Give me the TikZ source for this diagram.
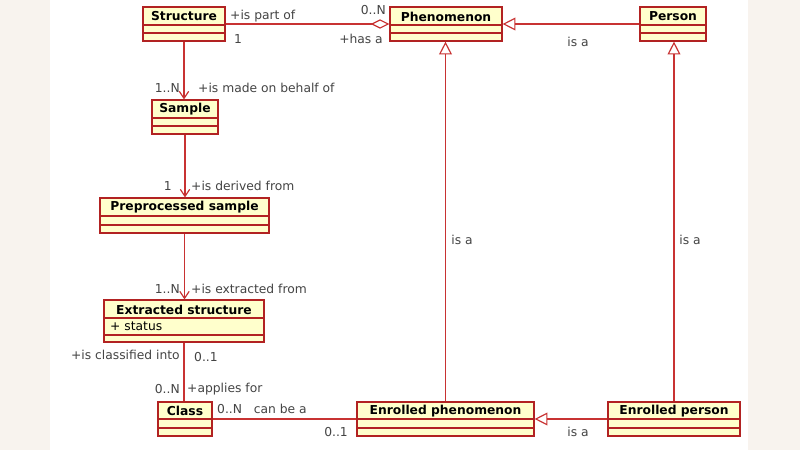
\documentclass[tikz,border=0pt]{standalone}
\usepackage{fontspec}
\setmainfont{DejaVu Sans}
\usetikzlibrary{fit,arrows.meta}
\definecolor{boxfill}{HTML}{FFFFCC}
\definecolor{boxline}{HTML}{B22222}
\definecolor{conn}{HTML}{C83232}
\definecolor{lbl}{HTML}{444444}
\definecolor{edge}{HTML}{F8F3EE}
\newcommand\umlclass[7]{% name x1 y1 x2 y2 titlebottom title
  \node[fit={(#2,#3)(#4,#5)}, inner sep=0pt, draw=boxline, fill=boxfill, line width=1pt] (#1) {};
  \node[font=\fontsize{10.5}{12}\selectfont\bfseries, anchor=center] at ({(#2+#4)/2},{(#3+#6)/2+0.5}) {#7};
}
\begin{document}
\begin{tikzpicture}[x=0.03cm,y=-0.03cm,
  lab/.style={font=\fontsize{10.5}{12}\selectfont, text=lbl, inner sep=0pt},
  cn/.style={draw=conn, line width=1pt},
  gen/.style={cn, -{Triangle[open, length=11pt, width=11pt, fill=white]}},
  nav/.style={cn, -{Straight Barb[length=6pt, width=8pt]}},
  agg/.style={cn, {Diamond[open, length=16pt, width=8pt, fill=white]}-}]
\useasboundingbox (0,0) rectangle (800,450);
\fill[white] (0,0) rectangle (800,450);
\fill[edge] (0,0) rectangle (50,450);
\fill[edge] (748,0) rectangle (800,450);
% classes
\umlclass{st}{143}{7}{225}{41}{25}{Structure}
\draw[boxline,line width=1pt] (143,25)--(225,25) (143,33)--(225,33);
\umlclass{ph}{390}{7}{502}{41}{25}{Phenomenon}
\draw[boxline,line width=1pt] (390,25)--(502,25) (390,33)--(502,33);
\umlclass{pe}{640}{7}{706}{41}{25}{Person}
\draw[boxline,line width=1pt] (640,25)--(706,25) (640,33)--(706,33);
\umlclass{sa}{152}{100}{218}{134}{118}{Sample}
\draw[boxline,line width=1pt] (152,118)--(218,118) (152,126)--(218,126);
\umlclass{pp}{100}{198}{269}{233}{216}{Preprocessed sample}
\draw[boxline,line width=1pt] (100,216)--(269,216) (100,225)--(269,225);
\umlclass{es}{104}{300}{264}{342}{318}{Extracted structure}
\draw[boxline,line width=1pt] (104,318)--(264,318) (104,335)--(264,335);
\node[lab, text=black, anchor=west] at (110,326.5) {+ status};
\umlclass{cl}{158}{402}{212}{436}{419}{Class}
\draw[boxline,line width=1pt] (158,419)--(212,419) (158,428)--(212,428);
\umlclass{ep}{357}{402}{534}{436}{419}{Enrolled phenomenon}
\draw[boxline,line width=1pt] (357,419)--(534,419) (357,428)--(534,428);
\umlclass{epe}{608}{402}{740}{436}{419}{Enrolled person}
\draw[boxline,line width=1pt] (608,419)--(740,419) (608,428)--(740,428);
% connectors
\draw[agg] (ph.west) -- (st.east);
\node[lab, anchor=west] at (230,16) {+is part of};
\node[lab, anchor=east] at (386,10) {0..N};
\node[lab, anchor=west] at (234,39) {1};
\node[lab, anchor=east] at (383,39) {+has a};
\draw[nav] (st.south) -- (st.south |- sa.north);
\node[lab, anchor=east] at (180,88) {1..N};
\node[lab, anchor=west] at (198,88) {+is made on behalf of};
\draw[nav] (sa.south) -- (sa.south |- pp.north);
\node[lab, anchor=east] at (172,186) {1};
\node[lab, anchor=west] at (191,186) {+is derived from};
\draw[nav] (pp.south) -- (pp.south |- es.north);
\node[lab, anchor=east] at (180,289) {1..N};
\node[lab, anchor=west] at (191,289) {+is extracted from};
\draw[cn] (es.south) -- (es.south |- cl.north);
\node[lab, anchor=east] at (180,355) {+is classified into};
\node[lab, anchor=west] at (194,357) {0..1};
\node[lab, anchor=east] at (180,389) {0..N};
\node[lab, anchor=west] at (187,389) {+applies for};
\draw[cn] (cl.east) -- (ep.west);
\node[lab, anchor=west] at (217,409) {0..N\ \ \ can be a};
\node[lab, anchor=east] at (348,432) {0..1};
\draw[gen] (epe.west) -- (ep.east);
\node[lab] at (578,432) {is a};
\draw[gen] (ep.north) -- (ep.north |- ph.south);
\node[lab] at (462,240) {is a};
\draw[gen] (epe.north) -- (epe.north |- pe.south);
\node[lab] at (690,240) {is a};
\draw[gen] (pe.west) -- (ph.east);
\node[lab] at (578,42) {is a};
\end{tikzpicture}
\end{document}
